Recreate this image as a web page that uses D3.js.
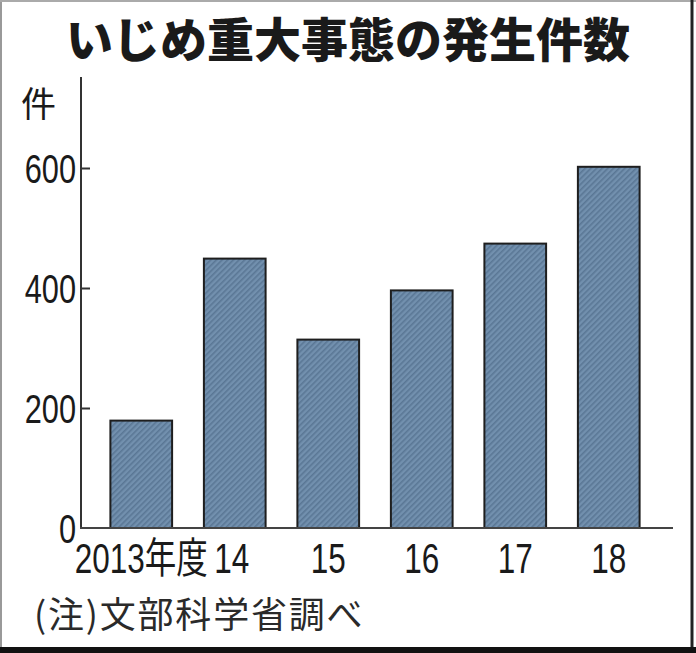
<!DOCTYPE html>
<html>
<head>
<meta charset="utf-8">
<script src="https://cdn.jsdelivr.net/npm/d3@7"></script>
<style>
  body { margin: 0; background: #fff; }
  text { fill: #1a1a1a; }
</style>
</head>
<body>
<svg id="chart" width="696" height="653"></svg>
<script>
// いじめ重大事態の発生件数 (文部科学省調べ)
var years = ["2013年度", "14", "15", "16", "17", "18"];
var counts = [179, 449, 314, 396, 474, 602];
var yTicks = [0, 200, 400, 600];

var svg = d3.select("#chart"),
    width = +svg.attr("width"),
    height = +svg.attr("height");

// no condensed font installed, so squeeze the labels horizontally
var labelFont = "'Liberation Sans', 'Noto Sans CJK JP', sans-serif";
var jp = "'Noto Sans CJK JP', sans-serif";
var squeeze = 0.75;

// hatch for bars
var defs = svg.append("defs");
var pat = defs.append("pattern")
    .attr("id", "hatch")
    .attr("patternUnits", "userSpaceOnUse")
    .attr("width", 4)
    .attr("height", 4)
    .attr("patternTransform", "rotate(45)");
pat.append("rect").attr("width", 4).attr("height", 4).attr("fill", "#7290ae");
pat.append("rect").attr("width", 1.6).attr("height", 4).attr("fill", "#5a7795");

var x = d3.scaleBand()
    .domain(years)
    .range([94.5, 655.5])
    .paddingInner(0.34)
    .paddingOuter(0.17);

var y = d3.scaleLinear()
    .domain([0, 750])
    .range([528, 78]);

// title
svg.append("text")
    .attr("x", width / 2)
    .attr("y", 57)
    .attr("text-anchor", "middle")
    .style("font-family", jp)
    .style("font-weight", 900)
    .style("font-size", "47px")
    .text("いじめ重大事態の発生件数");

// unit
svg.append("text")
    .attr("x", 21)
    .attr("y", 117)
    .style("font-family", jp)
    .style("font-size", "35px")
    .text("件");

// bars
svg.append("g").selectAll("rect")
    .data(counts)
    .enter().append("rect")
    .attr("x", function(d, i) { return x(years[i]); })
    .attr("y", function(d) { return y(d); })
    .attr("width", x.bandwidth())
    .attr("height", function(d) { return y(0) - y(d); })
    .attr("fill", "url(#hatch)")
    .attr("stroke", "#1e1e1e")
    .attr("stroke-width", 2);

// y axis
var yAxis = svg.append("g")
    .attr("transform", "translate(81,0)")
    .call(d3.axisRight(y).tickValues(yTicks.slice(1)).tickSize(9).tickFormat(""));
yAxis.select(".domain").remove();
yAxis.selectAll("line").attr("stroke", "#333").attr("stroke-width", 2);

svg.append("line")
    .attr("x1", 81).attr("x2", 81)
    .attr("y1", 77).attr("y2", y(0))
    .attr("stroke", "#333").attr("stroke-width", 2);

svg.append("g").selectAll("text")
    .data(yTicks)
    .enter().append("text")
    .attr("transform", function(d) { return "translate(76," + y(d) + ") scale(" + squeeze + ",1)"; })
    .attr("dy", "0.36em")
    .attr("text-anchor", "end")
    .style("font-family", labelFont)
    .style("font-size", "41px")
    .text(function(d) { return d; });

// baseline
svg.append("line")
    .attr("x1", 80).attr("x2", 673)
    .attr("y1", y(0)).attr("y2", y(0))
    .attr("stroke", "#444").attr("stroke-width", 2);

// x labels
svg.append("g").selectAll("text")
    .data(years)
    .enter().append("text")
    .attr("transform", function(d, i) {
        var cx = x(d) + x.bandwidth() / 2 - (i === 1 ? 3 : 0);
        return "translate(" + cx + ",573) scale(" + squeeze + ",1)";
    })
    .attr("text-anchor", "middle")
    .style("font-family", labelFont)
    .style("font-size", "42px")
    .text(function(d) { return d; });

// note
svg.append("text")
    .attr("x", 34)
    .attr("y", 628)
    .style("font-family", jp)
    .style("font-size", "36px")
    .style("letter-spacing", "1.8px")
    .style("fill", "#2a2a2a")
    .text("(注)文部科学省調べ");

// frame
svg.append("line").attr("x1", 1).attr("x2", 1).attr("y1", 0).attr("y2", height)
    .attr("stroke", "#999").attr("stroke-width", 2);
svg.append("line").attr("x1", 0).attr("x2", width).attr("y1", 1).attr("y2", 1)
    .attr("stroke", "#aaa").attr("stroke-width", 2);
svg.append("line").attr("x1", 692).attr("x2", 692).attr("y1", 0).attr("y2", height)
    .attr("stroke", "#222").attr("stroke-width", 3);
svg.append("rect").attr("x", 0).attr("y", 647).attr("width", width).attr("height", 6)
    .attr("fill", "#111");
</script>
</body>
</html>
